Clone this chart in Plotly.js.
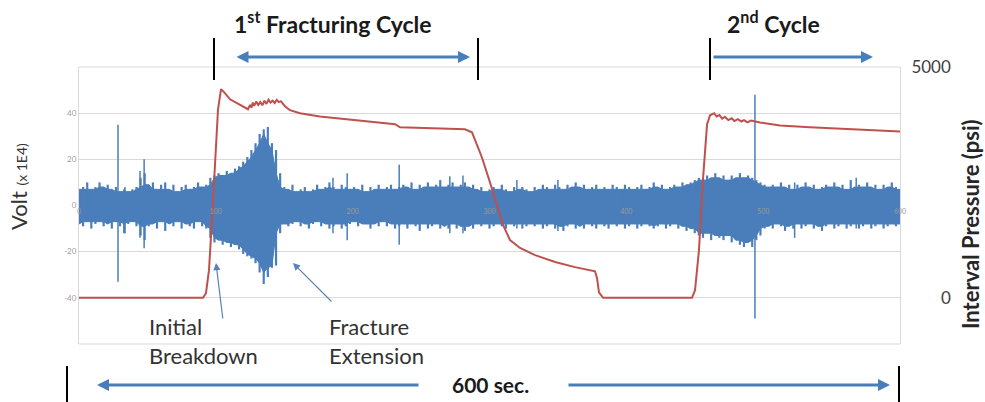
<!DOCTYPE html>
<html>
<head>
<meta charset="utf-8">
<script src="https://cdn.plot.ly/plotly-3.0.1.min.js"></script>
<style>html,body{margin:0;padding:0;background:#fff;}#chart{width:985px;height:402px;}</style>
</head>
<body>
<div id="chart"></div>
<script>
// ---- Data ----
// Blue acoustic signal: envelope every 3 s (Volt x 1E4)
var blueStep = 3;
var blueTop = [7,8,10,7,8,10,8,9,7,8,6,7,6,7,8,12,14,9,10,7,9,10,7,9,6,8,9,7,8,10,8,
  9,12,13,14,13,15,14,16,17,19,21,24,27,31,33,34,27,24,14,
  8,7,9,6,7,8,6,7,9,7,8,10,8,7,9,8,7,8,7,9,6,8,7,9,7,8,9,7,8,9,8,10,7,9,8,10,8,9,11,8,9,10,8,9,10,8,9,
  7,8,6,7,8,7,9,7,6,8,7,8,7,6,8,7,9,8,7,9,8,7,9,8,10,8,9,7,8,9,7,8,7,9,8,7,9,8,7,8,9,7,8,10,8,9,7,8,9,8,10,9,10,11,
  12,11,13,12,14,12,13,11,13,12,14,12,13,12,11,10,9,
  8,9,8,10,8,9,7,9,8,10,8,9,7,8,9,8,10,8,9,7,11,8,9,8,10,8,9,7,9,8,10,8,7];
var blueBot = [-8,-9,-7,-10,-8,-7,-9,-8,-10,-7,-9,-12,-8,-7,-9,-13,-15,-9,-8,-10,-7,-11,-8,-9,-7,-10,-8,-9,-10,-7,-9,
  -10,-14,-16,-15,-17,-16,-18,-17,-19,-21,-22,-23,-25,-29,-34,-31,-27,-26,-12,
  -8,-9,-8,-7,-9,-8,-10,-8,-7,-9,-8,-10,-9,-8,-10,-9,-8,-7,-9,-8,-8,-10,-8,-9,-7,-9,-8,-10,-9,-8,-10,-8,-9,-11,-8,-10,-9,-8,-10,-9,-10,-8,-10,-9,-11,-9,-10,
  -8,-9,-8,-10,-9,-8,-9,-10,-8,-9,-8,-10,-9,-8,-9,-8,-10,-9,-8,-10,-9,-11,-9,-8,-10,-9,-10,-8,-9,-10,-8,-9,-10,-8,-9,-8,-10,-9,-8,-10,-9,-8,-9,-10,-9,-8,-10,-9,-8,-10,-9,-11,-10,-12,
  -13,-14,-12,-15,-13,-14,-15,-13,-16,-15,-17,-18,-16,-18,-15,-13,-10,
  -9,-10,-8,-9,-11,-9,-10,-8,-10,-9,-8,-10,-9,-11,-9,-8,-10,-9,-8,-10,-9,-8,-10,-9,-8,-10,-9,-8,-10,-9,-8,-9,-8];
// Isolated spikes
var spikeT  = [28.5, 33.6, 44.6, 47.6, 185.6, 196, 234, 271, 280.6, 320, 350, 494, 523, 568];
var spikeHi = [35, 8, 15, 20, 12, 14, 17.6, 12.7, 13, 11, 11, 48, 10, 12];
var spikeLo = [-33, -12, -14, -18.5, -12, -15, -17, -12, -12, -10, -11, -49, -14, -10];
// Red interval pressure (psi)
var redT = [0,90.6,92.8,95,97.2,99.4,101.6,103.8,106,110.4,117.7,123.5,
  125,126,127,128,129.5,131,132.5,134,135.5,137,138.5,140,141.5,143,144.5,146,147.5,149,150.5,
  154.2,161.5,176,194.4,212.7,231,234.6,256.5,282,287.2,290.9,294.5,300.4,305.5,309.9,315,322.3,333.3,347.9,362.5,377.1,378.6,380,383,395.4,448,
  450.2,453.1,456,459,461.2,464.1,466,468,470,472,474.5,477,479,481.5,484,486,488.5,491,
  497.7,512.3,534.2,563.5,600];
var redP = [0,0,100,600,1690,3000,4085,4520,4455,4300,4170,4085,
  4180,4120,4230,4160,4250,4180,4240,4170,4270,4200,4290,4230,4270,4220,4290,4240,4260,4190,4150,
  4065,4000,3930,3870,3825,3760,3695,3670,3650,3585,3320,3040,2495,2015,1580,1250,1080,925,775,665,575,425,120,0,0,0,
  165,1035,2560,3760,3955,4000,3930,3960,3880,3920,3850,3890,3830,3870,3820,3850,3800,3840,
  3800,3735,3695,3650,3605];
var xTicks = [0,100,200,300,400,500,600];
var voltTicks = [-60,-40,-20,0,20,40,60];
var voltTickText = ['','-40','-20','0','20','40',''];
var pTicks = [0,5000];
var pTickText = ['\u2007\u2007\u20070','5000'];

// ---- Build traces ----
var BLUE = '#4a7ebb', RED = '#c0504d';
var n = blueTop.length;
// solid core: lower of neighbouring envelope readings
var coreX = [], coreY = [];
for (var i = 0; i < n; i++) {
  var a = Math.max(0, i-1), b = Math.min(n-1, i+1);
  coreX.push(i*blueStep); coreY.push(Math.min(blueTop[a], blueTop[i], blueTop[b]));
}
for (var j = n-1; j >= 0; j--) {
  var c = Math.max(0, j-1), d = Math.min(n-1, j+1);
  coreX.push(j*blueStep); coreY.push(Math.max(blueBot[c], blueBot[j], blueBot[d]));
}
// one vertical stroke per reading
var barX = [], barY = [];
for (var k = 0; k < n; k++) { barX.push(k*blueStep, k*blueStep, null); barY.push(blueTop[k], blueBot[k], null); }
var spX = [], spY = [];
for (var s = 0; s < spikeT.length; s++) { spX.push(spikeT[s], spikeT[s], null); spY.push(spikeHi[s], spikeLo[s], null); }

var traces = [
  {x: coreX, y: coreY, type: 'scatter', mode: 'lines', fill: 'toself', fillcolor: BLUE,
   line: {color: BLUE, width: 1}, hoverinfo: 'skip', showlegend: false},
  {x: barX, y: barY, type: 'scatter', mode: 'lines', line: {color: BLUE, width: 2.2}, showlegend: false},
  {x: spX, y: spY, type: 'scatter', mode: 'lines', line: {color: BLUE, width: 1.5}, showlegend: false},
  {x: redT, y: redP, yaxis: 'y2', type: 'scatter', mode: 'lines', line: {color: RED, width: 2}, showlegend: false}
];

// ---- Layout helpers (pixel -> paper) ----
var L = 79, R = 900, T = 67, B = 344;
function px(x) { return (x - L) / (R - L); }
function py(y) { return (B - y) / (B - T); }
var FONT = 'Lato, "Open Sans", sans-serif';

function vline(x, y0, y1) {
  return {type: 'line', xref: 'paper', yref: 'paper', x0: px(x), x1: px(x), y0: py(y0), y1: py(y1),
          line: {color: '#000', width: 2}};
}
function hline(y, x0, x1) {
  return {type: 'line', xref: 'paper', yref: 'paper', x0: px(x0), x1: px(x1), y0: py(y), y1: py(y),
          layer: 'below', line: {color: '#d9d9d9', width: 1}};
}
function arrow(xHead, yHead, xTail, yTail, both, w, col, size) {
  return {xref: 'paper', yref: 'paper', x: px(xHead), y: py(yHead), ax: xTail - xHead, ay: yTail - yHead,
          axref: 'pixel', ayref: 'pixel', text: '', showarrow: true, arrowhead: 2, startarrowhead: 2,
          arrowside: both ? 'end+start' : 'end', arrowsize: size, arrowwidth: w, arrowcolor: col, standoff: 0, startstandoff: 0};
}
function label(x, y, txt, size, bold, xanchor, col) {
  return {xref: 'paper', yref: 'paper', x: px(x), y: py(y), text: bold ? '<b>' + txt + '</b>' : txt,
          showarrow: false, xanchor: xanchor || 'center', yanchor: 'middle', align: 'left',
          font: {family: FONT, size: size, color: col || '#1a1a1a'}};
}

var layout = {
  width: 985, height: 402,
  margin: {l: L, r: 985 - R, t: T, b: 402 - B, pad: 0},
  paper_bgcolor: '#fff', plot_bgcolor: '#fff',
  showlegend: false,
  font: {family: FONT},
  xaxis: {range: [0, 600], anchor: 'free', position: 0.5, tickvals: xTicks, ticks: '',
          showgrid: false, zeroline: false, showline: false,
          tickfont: {size: 7, color: '#9a9a9a', family: FONT}},
  yaxis: {range: [-60, 60], tickvals: voltTicks, ticktext: voltTickText, ticks: '',
          showgrid: true, gridcolor: '#d9d9d9', gridwidth: 1, zeroline: false,
          showline: true, linecolor: '#d9d9d9', linewidth: 1,
          tickfont: {size: 8, color: '#a0a0a0', family: FONT}},
  yaxis2: {range: [-1000, 5000], overlaying: 'y', side: 'right', tickvals: pTicks, ticktext: pTickText, ticks: '',
           showgrid: false, zeroline: false, showline: true, linecolor: '#d9d9d9', linewidth: 1,
           ticklabelstandoff: 7,
           tickfont: {size: 17, color: '#404040', family: FONT}},
  shapes: [hline(T, L, R), hline(B, L, R),
           vline(214, 38, 80), vline(478, 38, 80), vline(710, 38, 80),
           vline(67, 366, 402), vline(899, 366, 402)],
  annotations: [
    label(333, 23, '1<sup>st</sup> Fracturing Cycle', 23, true),
    label(773, 23, '2<sup>nd</sup> Cycle', 23, true),
    label(490, 384, '600 sec.', 21, true),
    label(147, 341, 'Initial<br>Breakdown', 22, false, 'left', '#333'),
    label(327, 341, 'Fracture<br>Extension', 22, false, 'left', '#333'),
    {xref: 'paper', yref: 'paper', x: px(970), y: py(224), text: '<b>Interval Pressure (psi)</b>',
     textangle: -90, showarrow: false, xanchor: 'center', yanchor: 'middle',
     font: {family: FONT, size: 22, color: '#262626'}},
    {xref: 'paper', yref: 'paper', x: px(18), y: py(187), text: 'Volt <span style="font-size:14px">(x 1E4)</span>',
     textangle: -90, showarrow: false, xanchor: 'center', yanchor: 'middle',
     font: {family: FONT, size: 22, color: '#333'}},
    arrow(470, 57, 235, 57, true, 3, BLUE, 0.8),
    arrow(873, 57, 712, 57, false, 3, BLUE, 0.8),
    arrow(97, 385, 420, 385, false, 3, BLUE, 0.8),
    arrow(890, 385, 567, 385, false, 3, BLUE, 0.8),
    arrow(216, 263, 223, 320, false, 1.2, '#5b82b8', 1.2),
    arrow(293, 263, 333, 303, false, 1.2, '#5b82b8', 1.2)
  ]
};

Plotly.newPlot('chart', traces, layout, {staticPlot: true, displayModeBar: false});
</script>
</body>
</html>
